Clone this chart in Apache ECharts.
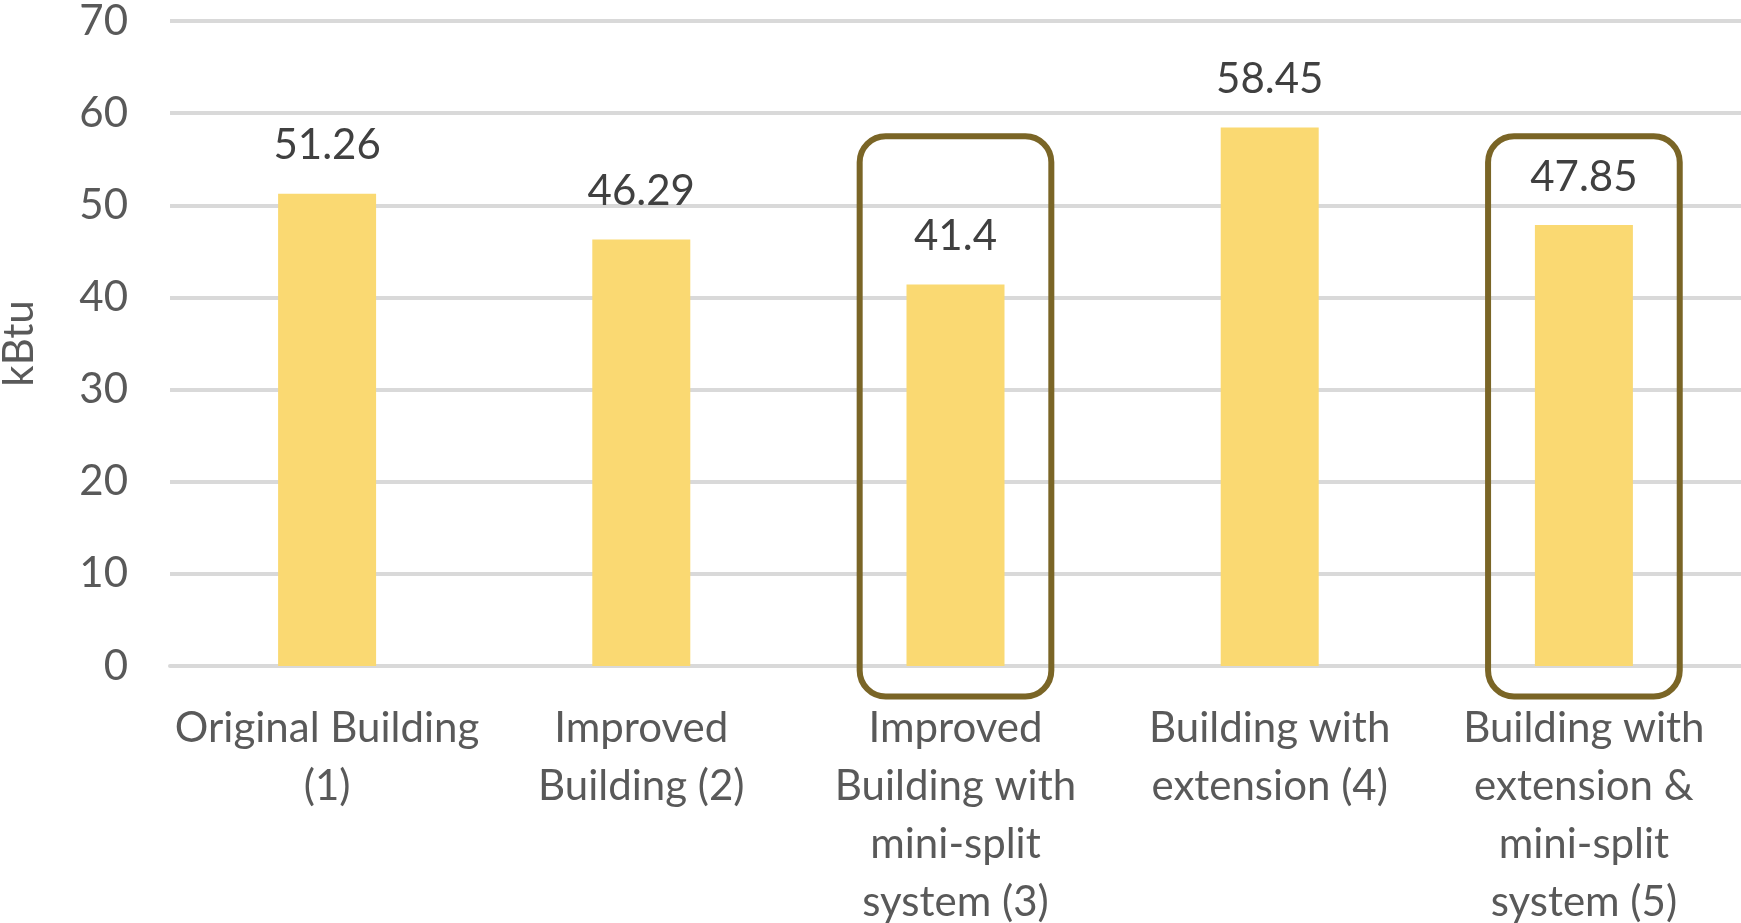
<!DOCTYPE html>
<html>
<head>
<meta charset="utf-8">
<script src="https://cdn.jsdelivr.net/npm/echarts@6/dist/echarts.min.js"></script>
<style>
html,body{margin:0;padding:0;background:#fff;}
#chart{width:1741px;height:923px;}
</style>
</head>
<body>
<div id="chart"></div>
<script>
const categories = [
  "Original Building\n(1)",
  "Improved\nBuilding (2)",
  "Improved\nBuilding with\nmini-split\nsystem (3)",
  "Building with\nextension (4)",
  "Building with\nextension &\nmini-split\nsystem (5)"
];
const values = [51.26, 46.29, 41.4, 58.45, 47.85];
const highlightedIndices = [2, 4];
const yTicks = { min: 0, max: 70, interval: 10 };
const yAxisName = "kBtu";

const FONT = "Lato";
const TEXT = "#595959";

const chart = echarts.init(document.getElementById('chart'), null, {renderer: 'canvas'});
chart.setOption({
  animation: false,
  backgroundColor: '#ffffff',
  grid: { left: 170, right: 0, top: 21, bottom: 257, containLabel: false, outerBoundsMode: 'none' },
  xAxis: {
    type: 'category',
    data: categories,
    axisLine: { show: true, lineStyle: { color: '#d9d9d9', width: 4 } },
    axisTick: { show: false },
    axisLabel: {
      interval: 0, margin: 33, color: TEXT, fontFamily: FONT, fontSize: 42, lineHeight: 58
    }
  },
  yAxis: {
    type: 'value',
    min: yTicks.min, max: yTicks.max, interval: yTicks.interval,
    name: yAxisName,
    nameLocation: 'middle',
    nameGap: 130,
    nameRotate: 90,
    nameTextStyle: { color: TEXT, fontFamily: FONT, fontSize: 42 },
    axisLine: { show: false },
    axisTick: { show: false },
    splitLine: { lineStyle: { color: '#d9d9d9', width: 4 } },
    axisLabel: { margin: 42, color: TEXT, fontFamily: FONT, fontSize: 42 }
  },
  series: [
    {
      type: 'bar',
      data: values,
      barWidth: 98,
      itemStyle: { color: '#fad972' },
      label: {
        show: true, position: 'top', distance: 26,
        color: '#404040', fontFamily: FONT, fontSize: 42, lineHeight: 44
      },
      z: 2
    },
    {
      type: 'custom',
      clip: false,
      z: 3,
      data: highlightedIndices.map(i => [i, -3.3, 57.5]),
      renderItem: function (params, api) {
        const top = api.coord([api.value(0), api.value(2)]);
        const bottom = api.coord([api.value(0), api.value(1)]);
        const w = api.size([1, 0])[0] * 0.61;
        return {
          type: 'rect',
          shape: { x: top[0] - w / 2, y: top[1], width: w, height: bottom[1] - top[1], r: 26 },
          style: { fill: 'none', stroke: '#7a6526', lineWidth: 6 }
        };
      }
    }
  ]
});
</script>
</body>
</html>
